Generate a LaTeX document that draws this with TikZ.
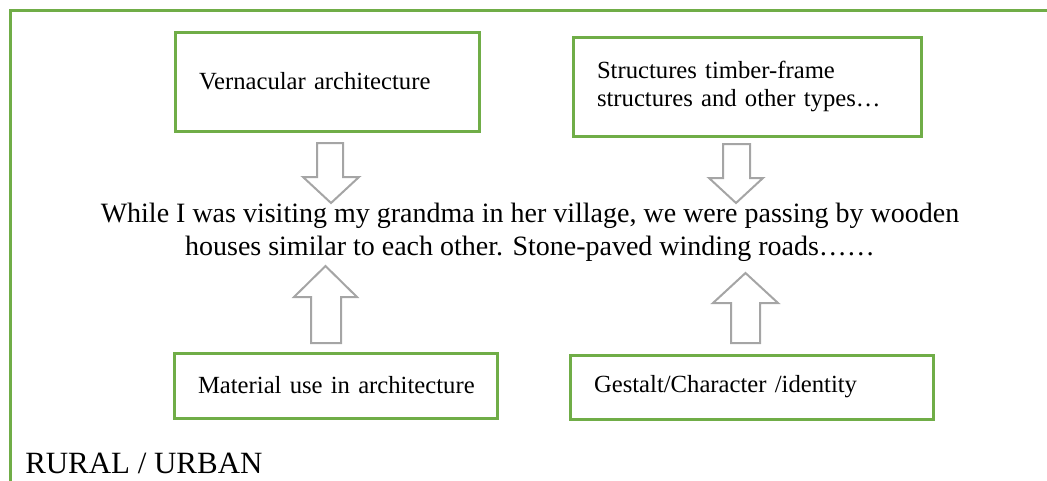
\documentclass[tikz,border=0pt]{standalone}
\usepackage{fontspec}
\setmainfont{Liberation Serif}
\definecolor{leaf}{HTML}{70AD47}
\definecolor{ash}{HTML}{A5A5A5}

\tikzstyle{box} = [draw=leaf, line width=2.25pt, inner xsep=18pt, align=left, font=\fontsize{18.5}{21}\selectfont]
\tikzstyle{story} = [align=center, font=\fontsize{21}{24.75}\selectfont]
\tikzstyle{hollow} = [draw=ash, line width=1.5pt, fill=white, line join=miter]

\begin{document}
\begin{tikzpicture}[x=0.75pt, y=-0.75pt]
        \useasboundingbox (0,0) rectangle (1047,480);
        \begin{scope}
            \clip (0,0) rectangle (1047,480);
            \draw[leaf, line width=2.25pt] (1060,10) -- (10,10) -- (10,500);
        \end{scope}

        \node[box, text width=192pt, minimum height=74.25pt] (vern) at (327,81.5) {Vernacular architecture};
        \node[box, text width=225pt, minimum height=74.25pt] (struct) at (747,86.5) {Structures timber-frame\\structures and other types\dots};
        \node[box, text width=206.25pt, minimum height=48.75pt] (material) at (335.5,385.5) {\mbox{Material use in architecture}};
        \node[box, text width=236.25pt, minimum height=48pt] (gestalt) at (751.5,387) {Gestalt/Character /identity};

        \node[story] (visit) at (530,232) {While I was visiting my grandma in her village, we were passing by wooden\\houses similar to each other. Stone-paved winding roads\dots\dots};

        \node[anchor=base west, inner sep=0pt, font=\fontsize{23.2}{28}\selectfont] (zone) at (25,473) {RURAL / URBAN};

        % hollow block arrows
        \draw[hollow] (317,143) -- (343,143) -- (343,177) -- (359,177) -- (331,203) -- (303,177) -- (317,177) -- cycle;
        \draw[hollow] (723,144) -- (750,144) -- (750,178) -- (763,178) -- (736,203) -- (709,178) -- (723,178) -- cycle;
        \draw[hollow] (311,343) -- (341,343) -- (341,297) -- (357,297) -- (325.5,266) -- (294,297) -- (311,297) -- cycle;
        \draw[hollow] (731,343) -- (760,343) -- (760,303) -- (778,303) -- (745.5,273) -- (713,303) -- (731,303) -- cycle;
\end{tikzpicture}
\end{document}
